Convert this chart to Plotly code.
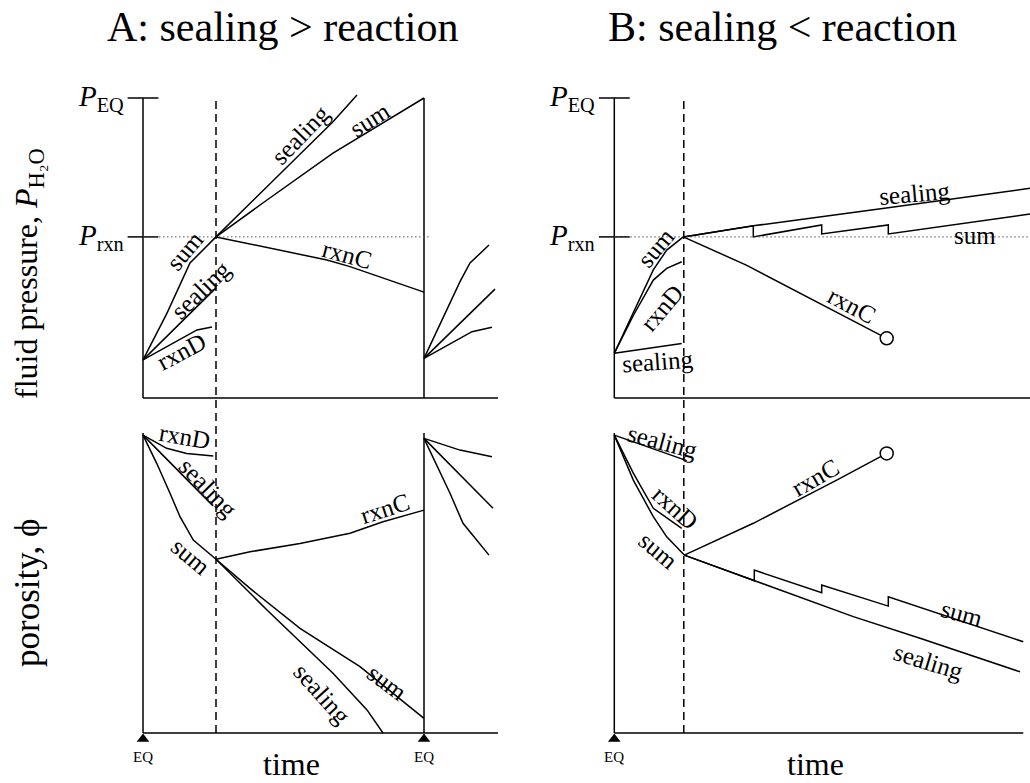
import plotly.graph_objects as go

SERIF = "Liberation Serif"

# ---------------- data (time in arbitrary units, pressure / porosity normalised) -------------
P_EQ = 1.0
P_RXN = 0.537

# Panel A : sealing > reaction
A_DASH_T = 7.3
A_CYCLE_T = 28.1
A_T_END = 35.5
A_PRXN_DOT_END = 28.7

# A top (fluid pressure)
A_P_SUM_PRE_T = [0, 2.4, 4.7, 5.7, 7.3]
A_P_SUM_PRE = [0.127, 0.283, 0.45, 0.483, 0.537]
A_P_SEAL_PRE_T = [0, 7.3]
A_P_SEAL_PRE = [0.127, 0.367]
A_P_RXND_PRE_T = [0, 5.4, 6.9]
A_P_RXND_PRE = [0.127, 0.227, 0.237]
A_P_SEAL_POST_T = [7.3, 19.0, 21.4]
A_P_SEAL_POST = [0.537, 0.921, 1.01]
A_P_SUM_POST_T = [7.3, 12.4, 19.0, 28.1]
A_P_SUM_POST = [0.537, 0.66, 0.816, 1.0]
A_P_RXNC_T = [7.3, 18.4, 20.7, 28.1]
A_P_RXNC = [0.537, 0.46, 0.438, 0.353]
A_P_SUM2_T = [28.1, 31.7, 32.7, 34.6]
A_P_SUM2 = [0.132, 0.388, 0.45, 0.51]
A_P_SEAL2_T = [28.1, 35.2]
A_P_SEAL2 = [0.132, 0.363]
A_P_RXND2_T = [28.1, 32.9, 34.9]
A_P_RXND2 = [0.132, 0.221, 0.236]

# A bottom (porosity)
A_F_RXND_PRE_T = [0, 2.37, 4.37, 7.03]
A_F_RXND_PRE = [0.993, 0.949, 0.932, 0.923]
A_F_SEAL_PRE_T = [0, 7.0]
A_F_SEAL_PRE = [0.993, 0.757]
A_F_SUM_PRE_T = [0, 1.37, 2.7, 3.7, 5.03, 7.3]
A_F_SUM_PRE = [0.993, 0.899, 0.799, 0.721, 0.643, 0.579]
A_F_RXNC_T = [7.3, 10.7, 15.7, 20.7, 24.0, 28.1]
A_F_RXNC = [0.579, 0.604, 0.632, 0.666, 0.704, 0.743]
A_F_SUM_POST_T = [7.3, 10.7, 15.7, 21.7, 28.1]
A_F_SUM_POST = [0.579, 0.482, 0.349, 0.221, 0.049]
A_F_SEAL_POST_T = [7.3, 12.4, 19.0, 22.4, 24.0]
A_F_SEAL_POST = [0.579, 0.41, 0.199, 0.077, 0.0]
A_F_RXND2_T = [28.1, 31.7, 34.9]
A_F_RXND2 = [0.982, 0.943, 0.921]
A_F_SEAL2_T = [28.1, 35.0]
A_F_SEAL2 = [0.982, 0.749]
A_F_SUM2_T = [28.1, 30.7, 32.0, 34.6]
A_F_SUM2 = [0.982, 0.799, 0.699, 0.593]

# Panel B : sealing < reaction
B_DASH_T = 6.95
B_T_END_TOP = 41.57
B_T_END_BOT = 40.9

# B top (fluid pressure)
B_P_SEAL_PRE_T = [0, 6.74]
B_P_SEAL_PRE = [0.149, 0.182]
B_P_RXND_PRE_T = [0, 1.9, 3.9, 5.24, 6.74]
B_P_RXND_PRE = [0.149, 0.275, 0.393, 0.432, 0.454]
B_P_SUM_PRE_T = [0, 1.57, 3.9, 5.24, 6.9]
B_P_SUM_PRE = [0.149, 0.26, 0.427, 0.493, 0.537]
B_P_RXNC_T = [6.9, 13.2, 27.24]
B_P_RXNC = [0.537, 0.443, 0.199]
B_P_SEAL_POST_T = [6.9, 13.9, 27.2, 41.57]
B_P_SEAL_POST = [0.537, 0.574, 0.633, 0.699]
B_P_SUM_POST_T = [6.9, 13.9, 13.9, 20.74, 20.74, 27.4, 27.4, 41.57]
B_P_SUM_POST = [0.537, 0.574, 0.537, 0.577, 0.547, 0.577, 0.547, 0.613]

# B bottom (porosity)
B_F_SEAL_PRE_T = [0, 7.24]
B_F_SEAL_PRE = [0.993, 0.908]
B_F_RXND_PRE_T = [0, 1.9, 3.9, 5.24, 6.74]
B_F_RXND_PRE = [0.993, 0.866, 0.749, 0.716, 0.682]
B_F_SUM_PRE_T = [0, 1.9, 3.9, 5.24, 7.0]
B_F_SUM_PRE = [0.993, 0.843, 0.721, 0.654, 0.593]
B_F_RXNC_T = [7.0, 13.9, 22.24, 27.24]
B_F_RXNC = [0.593, 0.699, 0.843, 0.932]
B_F_SEAL_POST_T = [7.0, 13.9, 23.9, 30.57, 40.57]
B_F_SEAL_POST = [0.593, 0.51, 0.388, 0.316, 0.204]
B_F_SUM_POST_T = [7.0, 14.0, 14.0, 20.74, 20.74, 27.4, 27.4, 40.9]
B_F_SUM_POST = [0.593, 0.508, 0.543, 0.468, 0.493, 0.423, 0.454, 0.304]

# ---------------- layout geometry (pixels) ----------------
W, H = 1030, 783
PX_PER_T = 10.0
PX_PER_Y = 300.0
A_X0, B_X0 = 143.0, 614.3          # pixel of t = 0
TOP_Y0, BOT_Y0 = 398.0, 733.0      # pixel of value = 0
T_MIN = -2.0
TOP_RANGE = [-0.05, 1.05]
BOT_RANGE = [-0.1, 1.05]


def xdom(x0, tmax):
    return [(x0 + T_MIN * PX_PER_T) / W, min(1.0, (x0 + tmax * PX_PER_T) / W)]


def ydom(y0, rng):
    return [(H - (y0 - rng[0] * PX_PER_Y)) / H, (H - (y0 - rng[1] * PX_PER_Y)) / H]


fig = go.Figure()
LINE = dict(color="black", width=1.5)

AX = {
    "At": ("x", "y"),
    "Ab": ("x2", "y2"),
    "Bt": ("x3", "y3"),
    "Bb": ("x4", "y4"),
}


def add_line(panel, t, v, **kw):
    xa, ya = AX[panel]
    fig.add_trace(go.Scatter(x=t, y=v, mode="lines", line=LINE, xaxis=xa, yaxis=ya,
                             hoverinfo="skip", showlegend=False, **kw))


# A top
for t, v in [(A_P_SUM_PRE_T, A_P_SUM_PRE), (A_P_SEAL_PRE_T, A_P_SEAL_PRE),
             (A_P_RXND_PRE_T, A_P_RXND_PRE), (A_P_SEAL_POST_T, A_P_SEAL_POST),
             (A_P_SUM_POST_T, A_P_SUM_POST), (A_P_RXNC_T, A_P_RXNC),
             (A_P_SUM2_T, A_P_SUM2), (A_P_SEAL2_T, A_P_SEAL2), (A_P_RXND2_T, A_P_RXND2)]:
    add_line("At", t, v)
# A bottom
for t, v in [(A_F_RXND_PRE_T, A_F_RXND_PRE), (A_F_SEAL_PRE_T, A_F_SEAL_PRE),
             (A_F_SUM_PRE_T, A_F_SUM_PRE), (A_F_RXNC_T, A_F_RXNC),
             (A_F_SUM_POST_T, A_F_SUM_POST), (A_F_SEAL_POST_T, A_F_SEAL_POST),
             (A_F_RXND2_T, A_F_RXND2), (A_F_SEAL2_T, A_F_SEAL2), (A_F_SUM2_T, A_F_SUM2)]:
    add_line("Ab", t, v)
# B top
for t, v in [(B_P_SEAL_PRE_T, B_P_SEAL_PRE), (B_P_RXND_PRE_T, B_P_RXND_PRE),
             (B_P_SUM_PRE_T, B_P_SUM_PRE), (B_P_RXNC_T, B_P_RXNC),
             (B_P_SEAL_POST_T, B_P_SEAL_POST), (B_P_SUM_POST_T, B_P_SUM_POST)]:
    add_line("Bt", t, v)
# B bottom
for t, v in [(B_F_SEAL_PRE_T, B_F_SEAL_PRE), (B_F_RXND_PRE_T, B_F_RXND_PRE),
             (B_F_SUM_PRE_T, B_F_SUM_PRE), (B_F_RXNC_T, B_F_RXNC),
             (B_F_SEAL_POST_T, B_F_SEAL_POST), (B_F_SUM_POST_T, B_F_SUM_POST)]:
    add_line("Bb", t, v)

# open circles at the end of rxnC in panel B
for panel, t, v in [("Bt", B_P_RXNC_T, B_P_RXNC), ("Bb", B_F_RXNC_T, B_F_RXNC)]:
    xa, ya = AX[panel]
    fig.add_trace(go.Scatter(x=[t[-1]], y=[v[-1]], mode="markers", xaxis=xa, yaxis=ya,
                             marker=dict(symbol="circle", size=13, color="white",
                                         line=dict(color="black", width=1.5)),
                             hoverinfo="skip", showlegend=False, cliponaxis=False))

# tick crosses on pressure axes
for panel in ["At", "Bt"]:
    xa, ya = AX[panel]
    fig.add_trace(go.Scatter(x=[0, 0], y=[P_EQ, P_RXN], mode="markers", xaxis=xa, yaxis=ya,
                             marker=dict(symbol="line-ew", size=22,
                                         line=dict(color="black", width=1.5)),
                             hoverinfo="skip", showlegend=False, cliponaxis=False))

# EQ triangles on time axes
for panel, ts in [("Ab", [0, A_CYCLE_T]), ("Bb", [0])]:
    xa, ya = AX[panel]
    fig.add_trace(go.Scatter(x=ts, y=[-0.02] * len(ts), mode="markers", xaxis=xa, yaxis=ya,
                             marker=dict(symbol="triangle-up", size=11, color="black"),
                             hoverinfo="skip", showlegend=False, cliponaxis=False))

shapes = []


def seg(xref, yref, x0, y0, x1, y1, dash=None, width=1.5, color="black"):
    d = dict(type="line", xref=xref, yref=yref, x0=x0, y0=y0, x1=x1, y1=y1,
             line=dict(color=color, width=width))
    if dash:
        d["line"]["dash"] = dash
    shapes.append(d)


# axes frames
for panel, tend in [("At", A_T_END), ("Ab", A_T_END), ("Bt", B_T_END_TOP), ("Bb", B_T_END_BOT)]:
    xa, ya = AX[panel]
    seg(xa, ya, 0, 0, 0, 1.0)
    seg(xa, ya, 0, 0, tend, 0)
# second-cycle vertical lines in panel A
seg("x", "y", A_CYCLE_T, 0, A_CYCLE_T, 1.0)
seg("x2", "y2", A_CYCLE_T, 0, A_CYCLE_T, 1.0)
# P_rxn dotted guide
seg("x", "y", 0, P_RXN, A_PRXN_DOT_END, P_RXN, dash="1.5px,2.5px", width=1, color="#555")
seg("x3", "y3", 0, P_RXN, B_T_END_TOP, P_RXN, dash="1.5px,2.5px", width=1, color="#555")
# dashed vertical (reaction switch) across both panels
yb = (H - BOT_Y0) / H
yt = (H - (TOP_Y0 - P_EQ * PX_PER_Y)) / H
seg("x", "paper", A_DASH_T, yb, A_DASH_T, yt, dash="8px,5px")
seg("x3", "paper", B_DASH_T, yb, B_DASH_T, yt, dash="8px,5px")

ann = []


def txt(text, x, y, xref, yref, size, angle=0, xanchor="center", yanchor="middle"):
    ann.append(dict(text=text, x=x, y=y, xref=xref, yref=yref, showarrow=False,
                    textangle=angle, xanchor=xanchor, yanchor=yanchor,
                    font=dict(family=SERIF, size=size, color="black")))


# curve labels (text, t, value, angle)
LABELS = {
    "At": [("sealing", 15.78, 0.877, -46), ("sum", 22.7, 0.927, -32), ("rxnC", 20.4, 0.477, 15),
           ("sum", 4.2, 0.49, -50), ("sealing", 5.7, 0.36, -44), ("rxnD", 3.87, 0.154, -28)],
    "Ab": [("rxnD", 4.1, 0.987, 10), ("sealing", 6.5, 0.82, 46), ("rxnC", 24.2, 0.747, -18),
           ("sum", 4.8, 0.59, 40), ("sealing", 17.9, 0.133, 48), ("sum", 24.4, 0.167, 37)],
    "Bt": [("sum", 4.17, 0.5, -50), ("rxnD", 4.67, 0.3, -50), ("sealing", 4.27, 0.123, -4),
           ("sealing", 29.97, 0.683, -5), ("sum", 36.07, 0.54, 0), ("rxnC", 23.77, 0.31, 28)],
    "Bb": [("sealing", 4.77, 0.973, 15), ("rxnD", 6.07, 0.753, 42), ("sum", 4.37, 0.607, 40),
           ("rxnC", 20.07, 0.853, -30), ("sum", 34.77, 0.4, 15), ("sealing", 31.37, 0.24, 17)],
}
for panel, labs in LABELS.items():
    xa, ya = AX[panel]
    for text, t, v, ang in labs:
        txt(text, t, v, xa, ya, 25, ang)

# pressure tick labels
for xa, ya in [AX["At"], AX["Bt"]]:
    txt("<i>P</i><sub>EQ</sub>", -1.7, P_EQ, xa, ya, 29, xanchor="right")
    txt("<i>P</i><sub>rxn</sub>", -1.7, P_RXN, xa, ya, 29, xanchor="right")

# EQ labels under triangles
for xa, ts in [("x2", [0, A_CYCLE_T]), ("x4", [0])]:
    for t in ts:
        txt("EQ", t, (H - 757) / H, xa, "paper", 15)

# titles and axis titles
txt("A: sealing &gt; reaction", 282 / W, (H - 27) / H, "paper", "paper", 42)
txt("B: sealing &lt; reaction", 782 / W, (H - 27) / H, "paper", "paper", 42)
txt("fluid pressure, <i>P</i><sub>H₂O</sub>", 28 / W, (H - 274) / H, "paper", "paper", 32, angle=-90)
txt("porosity, ϕ", 27 / W, (H - 593) / H, "paper", "paper", 35, angle=-90)
txt("time", 291 / W, (H - 764) / H, "paper", "paper", 32)
txt("time", 815 / W, (H - 764) / H, "paper", "paper", 32)

axis_common = dict(visible=False, showgrid=False, zeroline=False, fixedrange=True)
layout = dict(
    width=W, height=H, margin=dict(l=0, r=0, t=0, b=0),
    paper_bgcolor="white", plot_bgcolor="rgba(0,0,0,0)", showlegend=False,
    shapes=shapes, annotations=ann,
    xaxis=dict(domain=xdom(A_X0, A_T_END), range=[T_MIN, A_T_END], anchor="y", **axis_common),
    yaxis=dict(domain=ydom(TOP_Y0, TOP_RANGE), range=TOP_RANGE, anchor="x", **axis_common),
    xaxis2=dict(domain=xdom(A_X0, A_T_END), range=[T_MIN, A_T_END], anchor="y2", **axis_common),
    yaxis2=dict(domain=ydom(BOT_Y0, BOT_RANGE), range=BOT_RANGE, anchor="x2", **axis_common),
    xaxis3=dict(domain=xdom(B_X0, B_T_END_TOP), range=[T_MIN, B_T_END_TOP], anchor="y3", **axis_common),
    yaxis3=dict(domain=ydom(TOP_Y0, TOP_RANGE), range=TOP_RANGE, anchor="x3", **axis_common),
    xaxis4=dict(domain=xdom(B_X0, B_T_END_TOP), range=[T_MIN, B_T_END_TOP], anchor="y4", **axis_common),
    yaxis4=dict(domain=ydom(BOT_Y0, BOT_RANGE), range=BOT_RANGE, anchor="x4", **axis_common),
)
fig.update_layout(**layout)
fig.write_html("out.html", config={"displayModeBar": False},
               post_script="document.body.style.margin='0';document.body.style.padding='0';")
